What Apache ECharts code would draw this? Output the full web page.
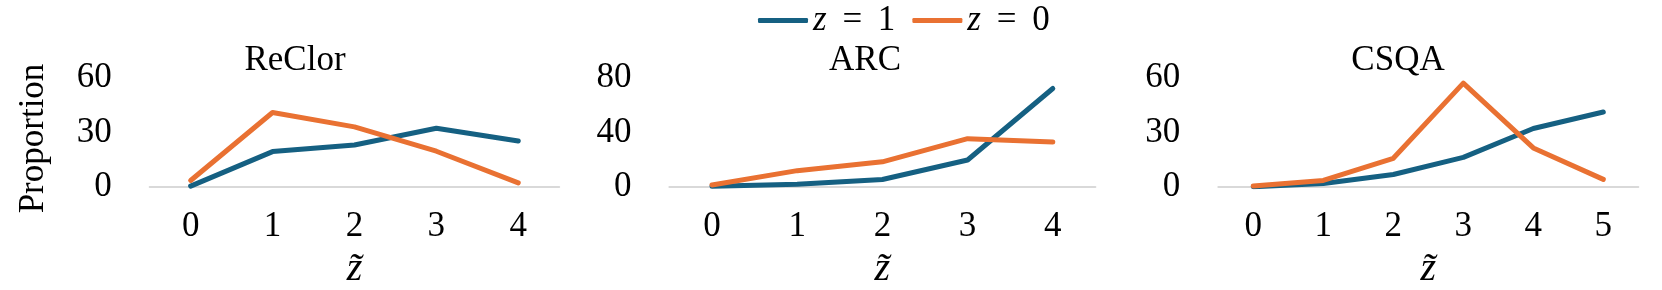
<!DOCTYPE html>
<html>
<head>
<meta charset="utf-8">
<script src="https://cdn.jsdelivr.net/npm/echarts@6/dist/echarts.min.js"></script>
<style>
html,body{margin:0;padding:0;background:#fff;}
#chart{width:1662px;height:290px;}
</style>
</head>
<body>
<div id="chart"></div>
<script>
// ---- data ----
const panelTitles = ['ReClor', 'ARC', 'CSQA'];
const catsReClor = ['0', '1', '2', '3', '4'];
const catsARC = ['0', '1', '2', '3', '4'];
const catsCSQA = ['0', '1', '2', '3', '4', '5'];
const reclorZ1 = [0.5, 19.5, 23.1, 32.3, 25.3];
const reclorZ0 = [3.6, 41.0, 33.1, 19.7, 2.3];
const arcZ1 = [0.5, 2.0, 5.5, 19.8, 72.3];
const arcZ0 = [1.5, 12.0, 18.5, 35.5, 33.0];
const csqaZ1 = [0.2, 1.9, 6.9, 16.3, 32.2, 41.3];
const csqaZ0 = [0.5, 3.6, 15.8, 57.2, 21.5, 4.2];
const yMax = [60, 80, 60];
const yInterval = [30, 40, 30];
const seriesNames = ['z = 1', 'z = 0'];
const yAxisTitle = 'Proportion';
const xAxisTitle = 'z\u0303';

// ---- style ----
const BLUE = '#156082';
const ORANGE = '#E97132';
const FONT = 'Liberation Serif';
const FS = 35;

const grids = [
  {left: 149.7, top: 78, width: 409.5, height: 112},
  {left: 669.4, top: 78, width: 426, height: 112},
  {left: 1218.3, top: 78, width: 420, height: 112}
];
const cats = [catsReClor, catsARC, catsCSQA];
const z1 = [reclorZ1, arcZ1, csqaZ1];
const z0 = [reclorZ0, arcZ0, csqaZ0];
const titleX = [295, 865, 1398];

const chart = echarts.init(document.getElementById('chart'), null, {renderer: 'canvas'});

const xAxes = [], yAxes = [], series = [], titles = [];
for (let i = 0; i < 3; i++) {
  xAxes.push({
    type: 'category', gridIndex: i, data: cats[i], boundaryGap: true,
    axisLine: {show: true, lineStyle: {color: '#D9D9D9', width: 2}},
    axisTick: {show: false},
    axisLabel: {color: '#000', fontFamily: FONT, fontSize: FS, margin: 22},
    name: xAxisTitle, nameLocation: 'middle', nameGap: 62,
    nameTextStyle: {color: '#000', fontFamily: FONT, fontSize: 40, fontStyle: 'italic'}
  });
  yAxes.push({
    type: 'value', gridIndex: i, min: 0, max: yMax[i], interval: yInterval[i],
    axisLine: {show: false}, axisTick: {show: false}, splitLine: {show: false},
    axisLabel: {color: '#000', fontFamily: FONT, fontSize: FS, margin: 38},
    name: i === 0 ? yAxisTitle : '', nameLocation: 'middle', nameGap: 98,
    nameTextStyle: {color: '#000', fontFamily: FONT, fontSize: FS, padding: [0, 12, 0, 0]}
  });
  titles.push({
    text: panelTitles[i], left: titleX[i], top: 43, textAlign: 'center', padding: 0,
    textStyle: {color: '#000', fontFamily: FONT, fontSize: FS, fontWeight: 'normal'}
  });
  series.push({
    name: seriesNames[0], type: 'line', xAxisIndex: i, yAxisIndex: i, data: z1[i],
    symbol: 'none', lineStyle: {color: BLUE, width: 5, cap: 'round', join: 'round'}, itemStyle: {color: BLUE}, z: 2
  });
  series.push({
    name: seriesNames[1], type: 'line', xAxisIndex: i, yAxisIndex: i, data: z0[i],
    symbol: 'none', lineStyle: {color: ORANGE, width: 5, cap: 'round', join: 'round'}, itemStyle: {color: ORANGE}, z: 3
  });
}

chart.setOption({
  animation: false,
  backgroundColor: '#fff',
  title: titles,
  legend: {
    data: seriesNames, left: 758, top: 3, padding: 0,
    itemWidth: 50, itemHeight: 5, itemGap: 17,
    icon: 'roundRect',
    formatter: function (n) { return '{i|z}\u2009 =\u2009 ' + n.split('= ')[1]; },
    textStyle: {
      color: '#000', fontFamily: FONT, fontSize: FS,
      rich: {i: {fontFamily: FONT, fontSize: FS, fontStyle: 'italic', color: '#000'}}
    }
  },
  grid: grids,
  xAxis: xAxes,
  yAxis: yAxes,
  series: series
});
</script>
</body>
</html>
